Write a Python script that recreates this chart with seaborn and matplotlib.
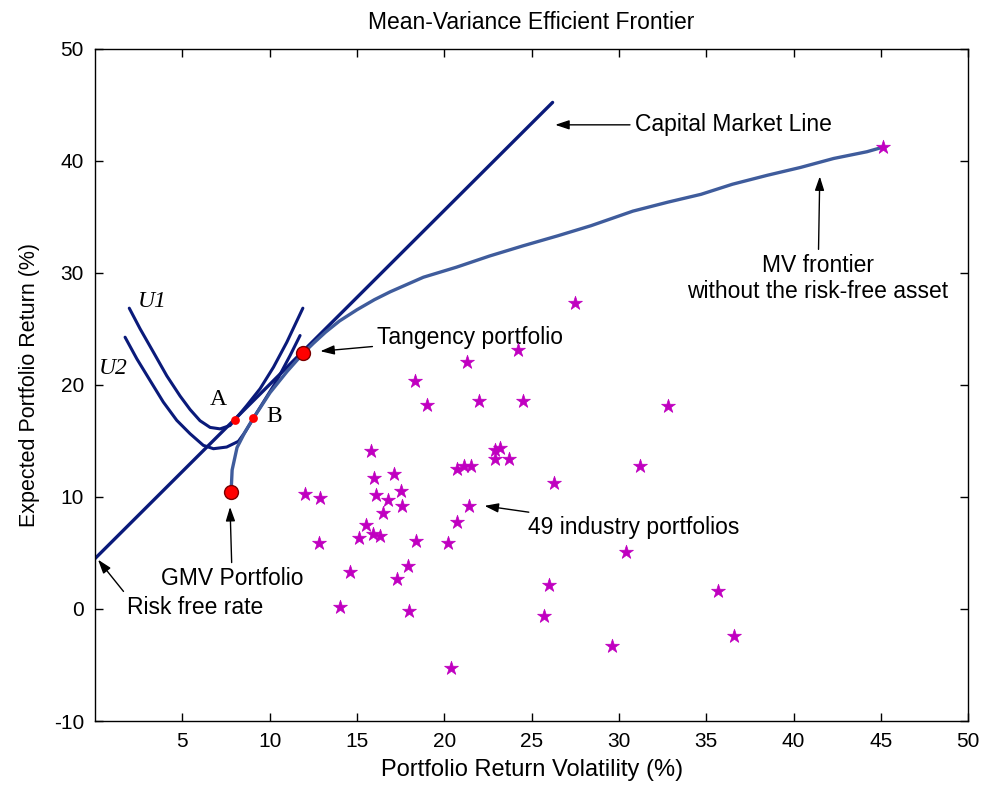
import matplotlib
matplotlib.use("Agg")
import matplotlib.pyplot as plt
import seaborn as sns

# ---------------- data ----------------
industry_vol = [45.1, 27.5, 24.2, 21.3, 18.3, 19.0, 22.0, 24.5, 32.8, 15.8,
                22.9, 23.2, 22.9, 23.7, 20.7, 21.1, 21.5, 26.3, 16.0, 17.1,
                12.0, 12.9, 16.1, 17.5, 16.8, 17.6, 16.5, 21.4, 15.5, 20.7,
                15.1, 15.9, 16.3, 12.8, 18.4, 20.2, 14.6, 17.9, 17.3, 26.0,
                14.0, 18.0, 25.7, 29.6, 20.4, 31.2, 30.4, 35.7, 36.6]
industry_ret = [41.2, 27.3, 23.1, 22.0, 20.3, 18.2, 18.6, 18.6, 18.1, 14.1,
                14.2, 14.4, 13.4, 13.4, 12.5, 12.8, 12.8, 11.2, 11.7, 12.0,
                10.3, 9.9, 10.2, 10.5, 9.7, 9.2, 8.6, 9.2, 7.5, 7.8,
                6.3, 6.7, 6.5, 5.9, 6.1, 5.9, 3.3, 3.8, 2.7, 2.1,
                0.2, -0.2, -0.6, -3.3, -5.3, 12.8, 5.1, 1.6, -2.4]

frontier_vol = [7.79, 7.85, 8.13, 8.59, 9.07, 10.02, 11.0, 11.91, 12.5, 13.2,
                14.0, 15.0, 16.0, 16.9, 18.8, 20.7, 22.6, 24.5, 26.5, 28.4,
                30.8, 32.8, 34.7, 36.5, 38.5, 40.4, 42.3, 44.2, 45.1]
frontier_ret = [10.4, 12.4, 14.4, 15.8, 17.03, 19.3, 21.2, 22.8, 23.7, 24.7,
                25.7, 26.7, 27.6, 28.3, 29.6, 30.5, 31.5, 32.4, 33.3, 34.2,
                35.5, 36.3, 37.0, 37.9, 38.7, 39.4, 40.2, 40.8, 41.2]

cml_vol = [0.0, 26.2]
cml_ret = [4.5, 45.2]

u1_vol = [1.96, 2.58, 3.34, 4.11, 4.87, 5.44, 6.01, 6.59, 7.16, 7.73,
          8.02, 8.69, 9.45, 10.22, 10.98, 11.9]
u1_ret = [26.84, 25.0, 22.92, 20.8, 19.0, 17.8, 16.8, 16.2, 16.07, 16.37,
          16.9, 18.16, 19.65, 21.58, 23.8, 26.84]

u2_vol = [1.72, 2.39, 3.15, 3.91, 4.68, 5.44, 6.20, 6.78, 7.54, 8.21,
          8.6, 9.07, 9.64, 10.41, 11.17, 11.74]
u2_ret = [24.25, 22.33, 20.39, 18.46, 16.83, 15.64, 14.6, 14.3, 14.45, 14.96,
          15.8, 17.03, 18.46, 20.39, 22.62, 24.4]

key_vol = [7.79, 11.91]      # GMV, Tangency
key_ret = [10.4, 22.8]
touch_vol = [8.02, 9.07]     # A, B
touch_ret = [16.9, 17.03]

x_ticks = [5, 10, 15, 20, 25, 30, 35, 40, 45, 50]
y_ticks = [-10, 0, 10, 20, 30, 40, 50]

# ---------------- style ----------------
sns.set_theme(style="white")
plt.rcParams['font.family'] = ['Liberation Sans', 'DejaVu Sans']
plt.rcParams['axes.unicode_minus'] = False
plt.rcParams['text.color'] = 'black'
plt.rcParams['axes.labelcolor'] = 'black'
plt.rcParams['xtick.color'] = 'black'
plt.rcParams['ytick.color'] = 'black'

fig = plt.figure(figsize=(9.9, 7.92), dpi=100)
ax = fig.add_axes([0.096, 0.0896, 0.882, 0.849])

navy = "#0a1a7a"
front_col = "#3f5c9c"
mag = "#c000c0"

sns.lineplot(x=cml_vol, y=cml_ret, ax=ax, color=navy, lw=2.4, sort=False)
sns.lineplot(x=u1_vol, y=u1_ret, ax=ax, color=navy, lw=2.2, sort=False)
sns.lineplot(x=u2_vol, y=u2_ret, ax=ax, color=navy, lw=2.2, sort=False)
sns.lineplot(x=frontier_vol, y=frontier_ret, ax=ax, color=front_col, lw=2.4, sort=False)

sns.scatterplot(x=industry_vol, y=industry_ret, ax=ax, marker="*", s=110,
                color=mag, edgecolor=mag, linewidth=0.5, zorder=5)
sns.scatterplot(x=key_vol, y=key_ret, ax=ax, marker="o", s=100,
                color="red", edgecolor="#7a0000", linewidth=1.0, zorder=6)
sns.scatterplot(x=touch_vol, y=touch_ret, ax=ax, marker="o", s=40,
                color="red", edgecolor="red", linewidth=0, zorder=6)

ax.set_xlim(0, 50)
ax.set_ylim(-10, 50)
ax.set_xticks(x_ticks)
ax.set_yticks(y_ticks)
ax.tick_params(direction="in", length=6, width=1, top=True, right=True,
               bottom=True, left=True, labelsize=15, colors="black", pad=8)
for s in ax.spines.values():
    s.set_color("black")
    s.set_linewidth(1.0)
    s.set_visible(True)

ax.set_title("Mean-Variance Efficient Frontier", fontsize=16.5, pad=14, color="black")
ax.set_xlabel("Portfolio Return Volatility (%)", fontsize=17, labelpad=6, color="black")
ax.set_ylabel("Expected Portfolio Return (%)", fontsize=15.5, labelpad=10, color="black")

arrow = dict(arrowstyle="-|>,head_length=0.6,head_width=0.2", color="black", lw=1.0,
             mutation_scale=14, shrinkA=1, shrinkB=0)
fs = 16.5
tc = "black"
ax.annotate("Capital Market Line", xy=(26.35, 43.2), xytext=(30.9, 43.2), color=tc,
            ha="left", va="center", fontsize=fs, arrowprops=arrow)
ax.annotate("MV frontier\nwithout the risk-free asset", xy=(41.5, 38.6), xytext=(41.4, 29.5),
            color=tc, ha="center", va="center", fontsize=fs, arrowprops=arrow, linespacing=1.15)
ax.annotate("Tangency portfolio", xy=(12.9, 23.0), xytext=(16.15, 24.2), color=tc,
            ha="left", va="center", fontsize=fs, arrowprops=arrow)
ax.annotate("49 industry portfolios", xy=(22.3, 9.2), xytext=(24.8, 7.3), color=tc,
            ha="left", va="center", fontsize=fs, arrowprops=arrow)
ax.annotate("GMV Portfolio", xy=(7.73, 9.1), xytext=(7.85, 2.7), color=tc,
            ha="center", va="center", fontsize=fs, arrowprops=arrow)
arrow_rf = dict(arrow, relpos=(0.0, 1.0))
ax.annotate("Risk free rate", xy=(0.17, 4.4), xytext=(1.83, 0.15), color=tc,
            ha="left", va="center", fontsize=fs, arrowprops=arrow_rf)

serif = ['Liberation Serif', 'DejaVu Serif']
ax.text(3.27, 27.4, "U1", family=serif, style="italic", fontsize=17, ha="center", va="center", color=tc)
ax.text(1.03, 21.5, "U2", family=serif, style="italic", fontsize=17, ha="center", va="center", color=tc)
ax.text(7.04, 18.7, "A", family=serif, fontsize=17, ha="center", va="center", color=tc)
ax.text(10.25, 17.2, "B", family=serif, fontsize=17, ha="center", va="center", color=tc)

fig.savefig("out.png", dpi=100)
